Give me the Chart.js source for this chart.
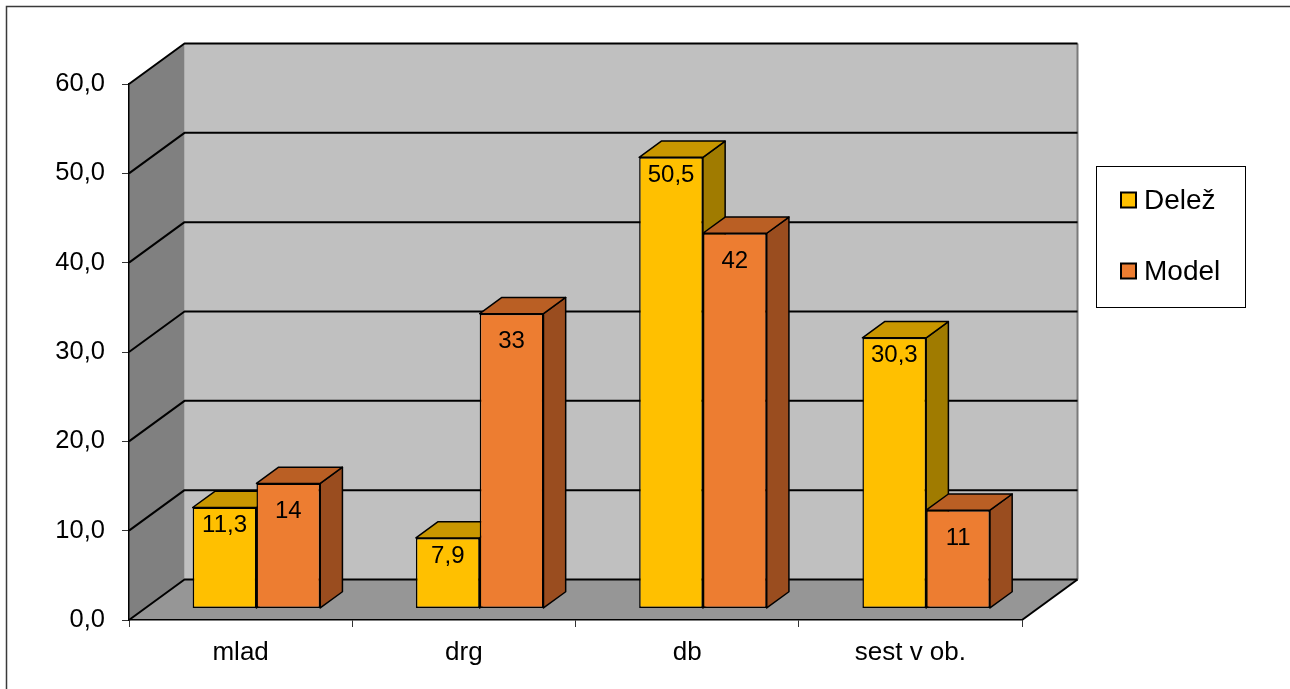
<!DOCTYPE html>
<html>
<head>
<meta charset="utf-8">
<script src="https://cdn.jsdelivr.net/npm/chart.js@4/dist/chart.umd.min.js"></script>
<style>
  html, body { margin: 0; padding: 0; background: #fff; }
  #wrap { width: 1290px; height: 689px; position: relative; }
</style>
</head>
<body>
<div id="wrap"><canvas id="c"></canvas></div>
<script>
const categories = ['mlad', 'drg', 'db', 'sest v ob.'];
const delez = [11.3, 7.9, 50.5, 30.3];
const model = [14, 33, 42, 11];
const seriesNames = ['Delež', 'Model'];
const yTicks = [0, 10, 20, 30, 40, 50, 60];

const FONT = '"Liberation Sans", Arial, Helvetica, sans-serif';
// projection of the full floor depth (back wall offset from the front axis plane)
const DEPTH = { dx: 55.5, dy: -40.5 };
const BAR_POS = 0.285;   // where the bars' front faces sit inside the depth
const BAR_DEPTH = 0.4;   // how deep each bar is
const LABEL_DROP = [18, 28];

const fmt = v => String(v).replace('.', ',');

function poly(ctx, pts, fill, stroke, lw) {
  ctx.beginPath();
  ctx.moveTo(pts[0][0], pts[0][1]);
  for (let i = 1; i < pts.length; i++) ctx.lineTo(pts[i][0], pts[i][1]);
  ctx.closePath();
  if (fill) { ctx.fillStyle = fill; ctx.fill(); }
  if (stroke) { ctx.strokeStyle = stroke; ctx.lineWidth = lw || 1.5; ctx.stroke(); }
}

function line(ctx, pts, color, lw) {
  ctx.beginPath();
  ctx.moveTo(pts[0][0], pts[0][1]);
  for (let i = 1; i < pts.length; i++) ctx.lineTo(pts[i][0], pts[i][1]);
  ctx.strokeStyle = color; ctx.lineWidth = lw; ctx.stroke();
}

const scene3d = {
  id: 'scene3d',
  beforeDraw(chart) {
    const { ctx, chartArea: a, scales: { y } } = chart;
    const { dx, dy } = DEPTH;
    const y0 = y.getPixelForValue(y.min);
    const yT = y.getPixelForValue(y.max);
    ctx.save();
    ctx.fillStyle = '#fff';
    ctx.fillRect(0, 0, chart.width, chart.height);
    // chart frame
    ctx.strokeStyle = '#3a3a3a'; ctx.lineWidth = 1.5;
    ctx.strokeRect(6.5, 6.5, chart.width, chart.height);
    // back wall
    ctx.fillStyle = '#C0C0C0';
    ctx.fillRect(a.left + dx, yT + dy, a.right - a.left, y0 - yT);
    // side wall
    poly(ctx, [[a.left, y0], [a.left, yT], [a.left + dx, yT + dy], [a.left + dx, y0 + dy]], '#808080');
    // floor
    poly(ctx, [[a.left, y0], [a.right, y0], [a.right + dx, y0 + dy], [a.left + dx, y0 + dy]], '#969696');
    // right edge of the back wall
    line(ctx, [[a.right + dx, yT + dy], [a.right + dx, y0 + dy]], '#7a7a7a', 2);
    // gridlines across side wall and back wall
    ctx.lineJoin = 'round';
    y.ticks.forEach(t => {
      const py = y.getPixelForValue(t.value);
      line(ctx, [[a.left, py], [a.left + dx, py + dy], [a.right + dx, py + dy]], '#000', 2);
    });
    // front-right edge of the floor
    line(ctx, [[a.right, y0], [a.right + dx, y0 + dy]], '#000', 2);
    ctx.restore();
  },
  beforeDatasetsDraw(chart) {
    const ctx = chart.ctx;
    ctx.save();
    ctx.translate(DEPTH.dx * BAR_POS, DEPTH.dy * BAR_POS);
    ctx.lineJoin = 'round';
    const bdx = DEPTH.dx * BAR_DEPTH, bdy = DEPTH.dy * BAR_DEPTH;
    const n = chart.data.labels.length;
    for (let i = 0; i < n; i++) {
      chart.data.datasets.forEach((ds, d) => {
        const el = chart.getDatasetMeta(d).data[i];
        const { x, y, base, width } = el.getProps(['x', 'y', 'base', 'width'], true);
        const L = x - width / 2, R = x + width / 2;
        poly(ctx, [[R, y], [R + bdx, y + bdy], [R + bdx, base + bdy], [R, base]], ds.sideColor, '#000', 1.5);
        poly(ctx, [[L, y], [R, y], [R + bdx, y + bdy], [L + bdx, y + bdy]], ds.topColor, '#000', 1.5);
      });
    }
  },
  afterDatasetsDraw(chart) {
    const ctx = chart.ctx;
    ctx.font = '24px ' + FONT;
    ctx.fillStyle = '#000';
    ctx.textAlign = 'center';
    ctx.textBaseline = 'middle';
    chart.data.datasets.forEach((ds, d) => {
      chart.getDatasetMeta(d).data.forEach((el, i) => {
        const { x, y } = el.getProps(['x', 'y'], true);
        ctx.fillText(fmt(ds.data[i]), x, y + LABEL_DROP[d]);
      });
    });
    ctx.restore();
  },
  afterDraw(chart) {
    const ctx = chart.ctx;
    ctx.save();
    // legend box
    ctx.strokeStyle = '#000'; ctx.lineWidth = 1;
    ctx.strokeRect(1096.5, 166.5, 149, 141);
    const rows = [200, 271];
    ctx.font = '28px ' + FONT;
    ctx.textAlign = 'left';
    ctx.textBaseline = 'middle';
    chart.data.datasets.forEach((ds, d) => {
      const cy = rows[d];
      ctx.fillStyle = ds.backgroundColor;
      ctx.fillRect(1121, cy - 7.5, 15, 15);
      ctx.strokeStyle = '#000'; ctx.lineWidth = 2;
      ctx.strokeRect(1121, cy - 7.5, 15, 15);
      ctx.fillStyle = '#000';
      ctx.fillText(ds.label, 1144, cy + 1);
    });
    ctx.restore();
  }
};

new Chart(document.getElementById('c'), {
  type: 'bar',
  data: {
    labels: categories,
    datasets: [
      { label: seriesNames[0], data: delez, backgroundColor: '#FFC000', topColor: '#C99700', sideColor: '#A07B00',
        borderColor: '#000', borderWidth: 1.5, borderSkipped: false, clip: false },
      { label: seriesNames[1], data: model, backgroundColor: '#ED7D31', topColor: '#BA5F24', sideColor: '#9A4D1F',
        borderColor: '#000', borderWidth: 1.5, borderSkipped: false, clip: false }
    ]
  },
  options: {
    responsive: true,
    maintainAspectRatio: false,
    devicePixelRatio: 1,
    animation: false,
    categoryPercentage: 2 / 3.5,
    barPercentage: 1,
    layout: { padding: { top: 84, right: 268, bottom: 0, left: 0 } },
    plugins: { legend: { display: false }, tooltip: { enabled: false } },
    scales: {
      x: {
        grid: { display: true, drawOnChartArea: false, drawTicks: true, tickLength: 7, color: '#333', lineWidth: 1, offset: true },
        border: { display: true, color: '#000', width: 1.5 },
        ticks: { font: { size: 26, family: FONT }, color: '#000', padding: 10 },
        afterFit: s => { s.height = 69; }
      },
      y: {
        min: 0, max: 60,
        afterBuildTicks: s => { s.ticks = yTicks.map(v => ({ value: v })); },
        grid: { display: true, drawOnChartArea: false, drawTicks: true, tickLength: 7, color: '#333', lineWidth: 1 },
        border: { display: true, color: '#000', width: 1.5 },
        ticks: { font: { size: 25.5, family: FONT }, color: '#000', padding: 17,
                 callback: v => v.toFixed(1).replace('.', ',') },
        afterFit: s => { s.width = 129; }
      }
    }
  },
  plugins: [scene3d]
});
</script>
</body>
</html>
